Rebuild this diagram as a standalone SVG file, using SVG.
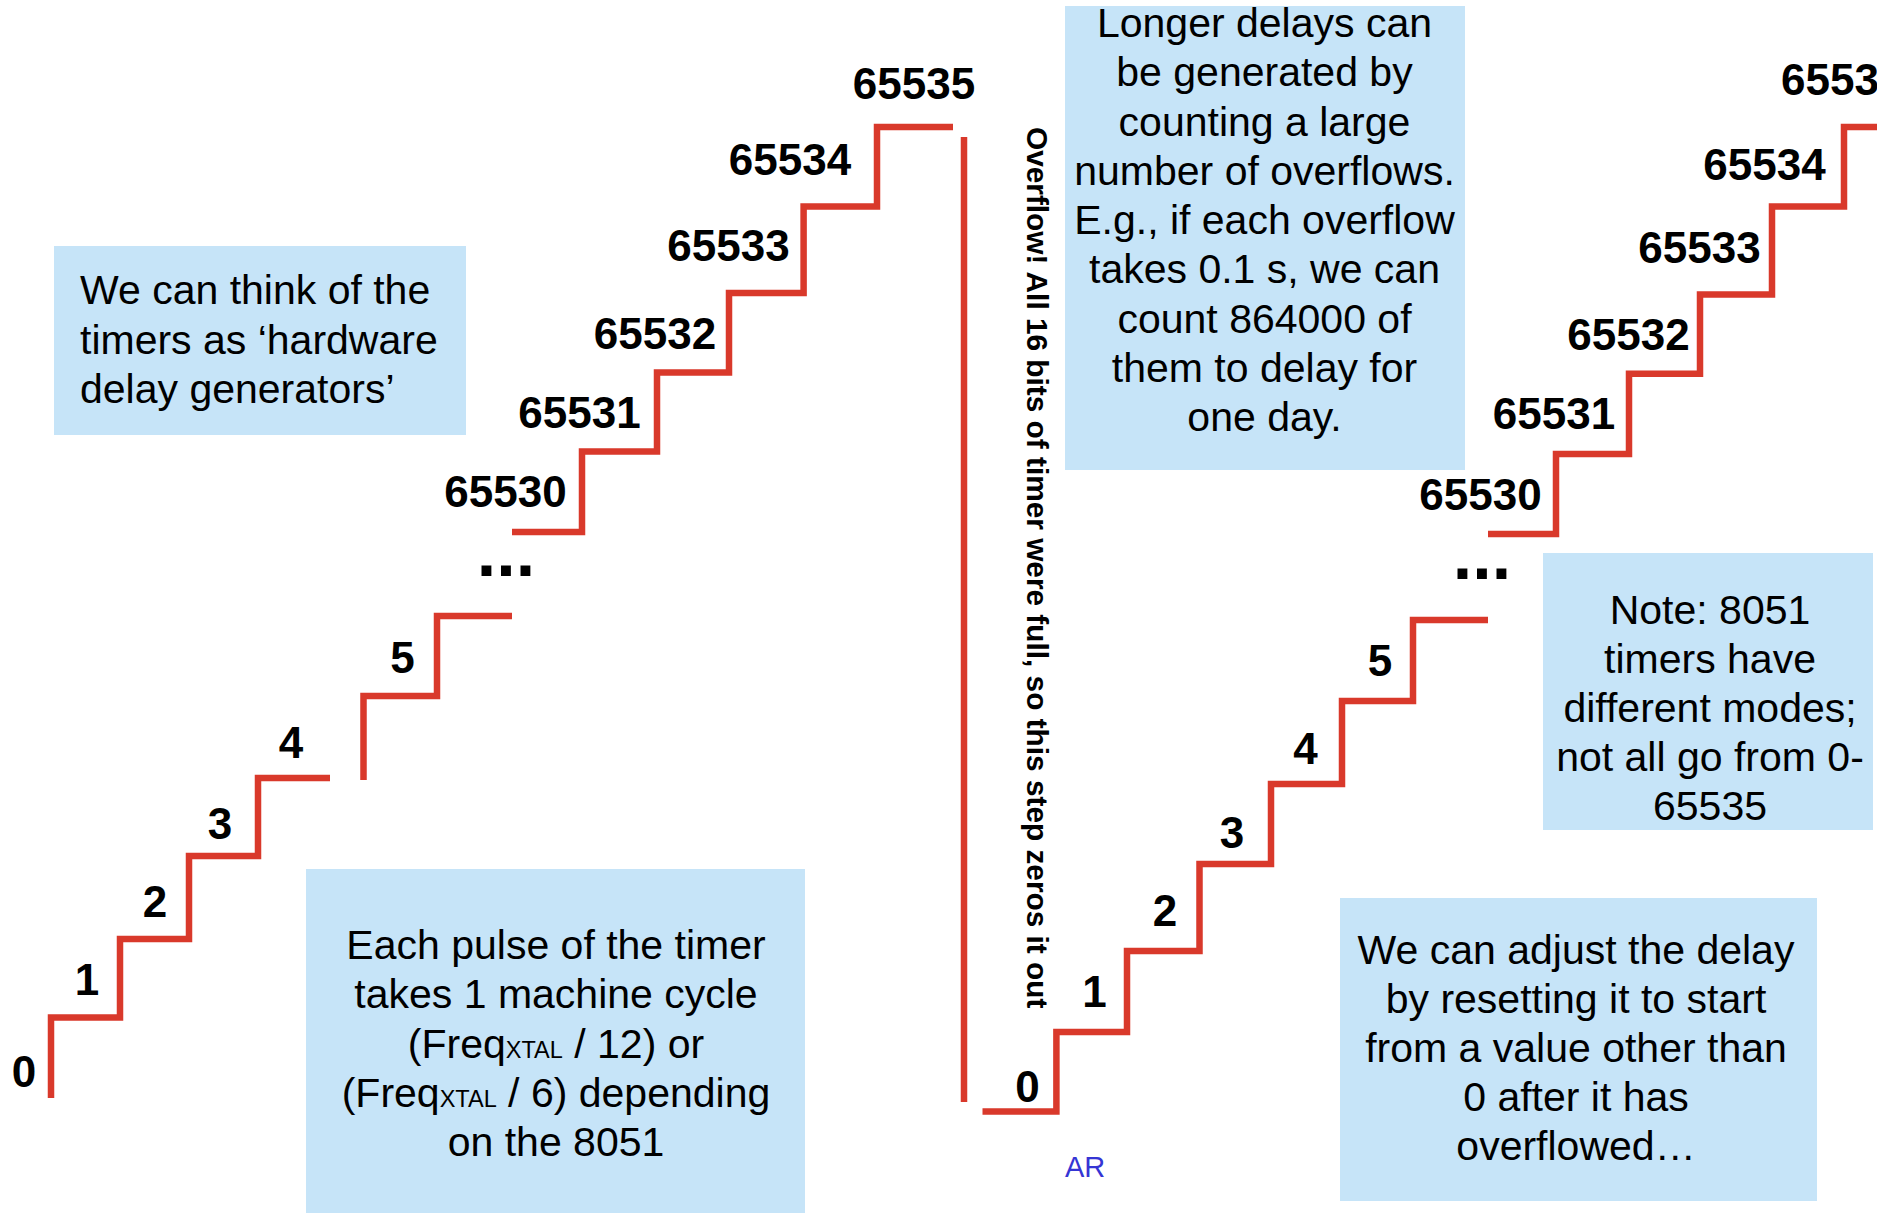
<svg xmlns="http://www.w3.org/2000/svg" width="1877" height="1213" viewBox="0 0 1877 1213">
<style>
.box{fill:#c6e4f8}
.step{fill:none;stroke:#d9392b;stroke-width:6.5;stroke-linejoin:miter}
.num{font-family:"Liberation Sans",Arial,sans-serif;font-weight:bold;font-size:44px;fill:#000}
.dots{font-family:"Liberation Sans",Arial,sans-serif;font-weight:bold;font-size:70px;fill:#000;text-anchor:middle}
.txt{font-family:"Liberation Sans",Arial,sans-serif;font-size:41px;fill:#000}
.c{text-anchor:middle}
.sub{font-size:23.5px}
</style>
<rect width="1877" height="1213" fill="#fff"/>
<g id="connectors">
<path class="step" d="M51,1098 V1017.5 H120 V939 H189 V856 H258 V778 H330"/>
<path class="step" d="M363.5,780 V696 H437 V616 H512"/>
<path class="step" d="M512,532 H582 V451.5 H657 V372.5 H729 V293 H803.6 V206.4 H877 V127 H953"/>
<path class="step" d="M964,137 V1102"/>
<path class="step" d="M982.5,1111.5 H1056.4 V1032 H1127 V951 H1199.5 V864 H1271 V784 H1342 V701 H1413 V620 H1488"/>
<path class="step" d="M1488,534 H1556 V454 H1629 V373.7 H1700 V294.6 H1772 V206.5 H1844 V127 H1880"/>
</g>
<g id="labels-left">
<text class="num c" x="24" y="1087">0</text>
<text class="num c" x="87" y="995">1</text>
<text class="num c" x="155" y="917">2</text>
<text class="num c" x="220" y="839">3</text>
<text class="num c" x="291" y="758">4</text>
<text class="num c" x="402.5" y="673">5</text>
<text class="num c" x="505.5" y="507">65530</text>
<text class="num c" x="579.5" y="428">65531</text>
<text class="num c" x="655" y="349">65532</text>
<text class="num c" x="728.5" y="261">65533</text>
<text class="num c" x="790" y="175">65534</text>
<text class="num c" x="914" y="99">65535</text>
<text class="dots" x="506" y="576">...</text>
</g>
<g id="labels-right">
<text class="num c" x="1027.5" y="1102">0</text>
<text class="num c" x="1094.5" y="1007">1</text>
<text class="num c" x="1165" y="926">2</text>
<text class="num c" x="1232" y="848">3</text>
<text class="num c" x="1305.5" y="764">4</text>
<text class="num c" x="1380" y="676">5</text>
<text class="num c" x="1480.5" y="510">65530</text>
<text class="num c" x="1554" y="429">65531</text>
<text class="num c" x="1628.5" y="350">65532</text>
<text class="num c" x="1699.5" y="263">65533</text>
<text class="num c" x="1764.5" y="180">65534</text>
<text class="num" x="1781" y="95">65535</text>
<text class="dots" x="1482" y="579">...</text>
</g>
<g id="overflow-label">
<text class="num" style="font-size:29.8px" transform="translate(1027,127) rotate(90)">Overflow! All 16 bits of timer were full, so this step zeros it out</text>
</g>
<g id="box-think">
<rect class="box" x="54" y="246" width="412" height="189"/>
<text class="txt" x="80" y="304">We can think of the</text>
<text class="txt" x="80" y="353.5">timers as ‘hardware</text>
<text class="txt" x="80" y="403">delay generators’</text>
</g>
<g id="box-pulse">
<rect class="box" x="306" y="869" width="499" height="350"/>
<text class="txt c" x="556" y="958.5">Each pulse of the timer</text>
<text class="txt c" x="556" y="1008">takes 1 machine cycle</text>
<text class="txt c" x="556" y="1057.5">(Freq<tspan class="sub">XTAL</tspan> / 12) or</text>
<text class="txt c" x="556" y="1107">(Freq<tspan class="sub">XTAL</tspan> / 6) depending</text>
<text class="txt c" x="556" y="1156">on the 8051</text>
</g>
<g id="box-longer">
<rect class="box" x="1065" y="6" width="400" height="464"/>
<text class="txt c" x="1264.5" y="37">Longer delays can</text>
<text class="txt c" x="1264.5" y="86.25">be generated by</text>
<text class="txt c" x="1264.5" y="135.5">counting a large</text>
<text class="txt c" x="1264.5" y="184.75">number of overflows.</text>
<text class="txt c" x="1264.5" y="234">E.g., if each overflow</text>
<text class="txt c" x="1264.5" y="283.25">takes 0.1 s, we can</text>
<text class="txt c" x="1264.5" y="332.5">count 864000 of</text>
<text class="txt c" x="1264.5" y="381.75">them to delay for</text>
<text class="txt c" x="1264.5" y="431">one day.</text>
</g>
<g id="box-note">
<rect class="box" x="1543" y="553" width="330" height="277"/>
<text class="txt c" x="1710" y="623.5">Note: 8051</text>
<text class="txt c" x="1710" y="672.5">timers have</text>
<text class="txt c" x="1710" y="721.5">different modes;</text>
<text class="txt c" x="1710" y="770.5">not all go from 0-</text>
<text class="txt c" x="1710" y="819.5">65535</text>
</g>
<g id="box-adjust">
<rect class="box" x="1340" y="898" width="477" height="303"/>
<text class="txt c" x="1576" y="963.5">We can adjust the delay</text>
<text class="txt c" x="1576" y="1012.5">by resetting it to start</text>
<text class="txt c" x="1576" y="1061.5">from a value other than</text>
<text class="txt c" x="1576" y="1110.5">0 after it has</text>
<text class="txt c" x="1576" y="1159.5">overflowed…</text>
</g>
<g id="ar">
<text x="1065" y="1176.5" style="font-family:'Liberation Sans',Arial,sans-serif;font-size:29px;fill:#3535d4">AR</text>
</g>
</svg>
